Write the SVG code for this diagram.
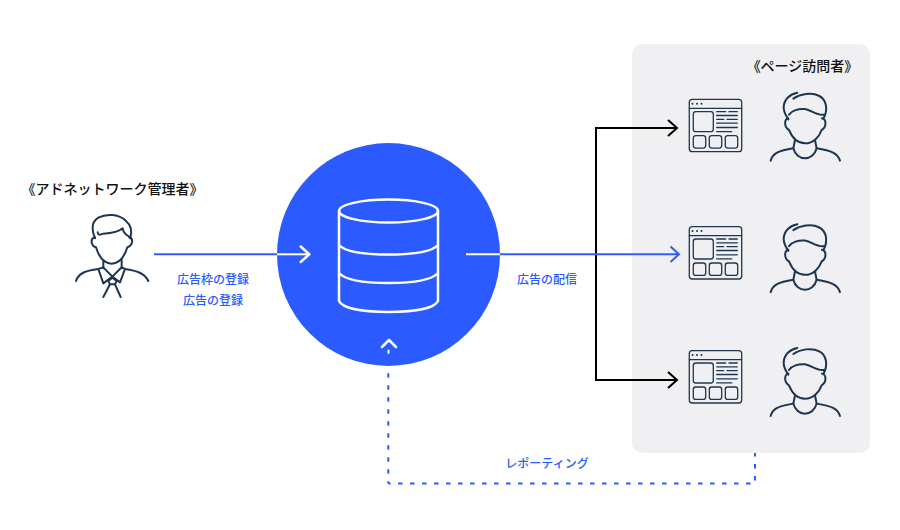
<svg xmlns="http://www.w3.org/2000/svg" width="900" height="530" viewBox="0 0 900 530">
<style>
text{font-family:"Noto Sans CJK JP","Noto Sans",sans-serif}
.t{font-size:14px;fill:#111;text-anchor:middle;font-weight:500}
.l{font-size:12px;fill:#2b5bff;text-anchor:middle;font-weight:500}
.ic{fill:none;stroke:#1d3650;stroke-linecap:round;stroke-linejoin:round}
.blue{fill:none;stroke:#2f5dff;stroke-width:2}
.wh{fill:none;stroke:#fff;stroke-width:2}
.head{fill:none;stroke:#fff;stroke-width:2.5;stroke-linecap:round;stroke-linejoin:round}
.blk{fill:none;stroke:#000;stroke-width:2}
.db{fill:none;stroke:#fff;stroke-width:2.5;stroke-linecap:round;stroke-linejoin:round}
.dash{fill:none;stroke:#2b5bff;stroke-width:2;stroke-dasharray:4.500 7.500;stroke-dashoffset:2.250}
</style>
<defs>
<g id="browser" class="ic" stroke-width="1.3">
<rect x="689.3" y="99.3" width="52.4" height="52.4" rx="3"/>
<path d="M689.3 108.3H741.7"/>
<path d="M692.500 103.800h.01M697 103.800h.01M701.500 103.800h.01" stroke-width="2"/>
<rect x="693.3" y="111.700" width="20" height="20" rx="2.500"/>
<rect x="693.3" y="135.700" width="12.400" height="12.400" rx="2.500"/>
<rect x="709.3" y="135.700" width="12.400" height="12.400" rx="2.500"/>
<rect x="725.3" y="135.700" width="12.400" height="12.400" rx="2.500"/>
<path d="M716.700 111.700h9M729 111.700h8.300M716.700 115.500h20.600M716.700 119.300h7M727 119.300h10.300M716.700 123.200h20.600M716.700 127.500h20.600M716.700 131.600h15"/>
</g>
<g id="person" class="ic" stroke-width="6" transform="translate(680 80) scale(.3333)">
<path d="M352 38C330 42 312 58 311 82C311 95 318 108 325 118"/>
<path d="M340 56C360 42 395 36 418 48C440 60 445 90 430 116"/>
<path d="M327 104C335 92 355 85 375 87C395 90 410 108 432 104"/>
<path d="M325 115C312 118 312 142 327 150C335 170 350 190 375 190C400 190 418 170 425 150C440 142 440 118 426 115"/>
<path d="M345 180L340 205C345 225 360 235 375 235C390 235 405 225 410 205L405 180"/>
<path d="M272 242C278 220 295 212 340 205M410 205C455 212 473 220 480 242"/>
</g>
</defs>
<g id="visitors-panel"><rect x="632" y="44" width="238" height="409" rx="10" fill="#f0f0f3"/></g>
<g id="database">
<circle cx="388.500" cy="254.500" r="111.500" fill="#2b5bff"/>
<ellipse class="db" cx="388.500" cy="211" rx="49.500" ry="11.500"/>
<path class="db" d="M339 211V301C343 309 365 312 388.500 312C412 312 434 309 438 301V211"/>
<path class="db" d="M339 245C345 252 365 254.500 388.500 254.500C412 254.500 432 252 438 245"/>
<path class="db" d="M339 273C345 280 365 283 388.500 283C412 283 432 280 438 273"/>
</g>
<g id="connectors">
<path class="blue" d="M154 254.300H277"/>
<path class="wh" d="M277 254.300H309"/>
<path class="head" d="M300.700 246.500L309.300 254.300L300.700 262"/>
<path class="blk" d="M676 128H596V380H676M668 120L677 128L668 136M668 372L677 380L668 388"/>
<path class="wh" d="M466 254.300H500"/>
<path class="blue" d="M500 254.300H679M670.500 246.500L679 254.300L670.500 262"/>
<path class="dash" d="M388.300 483.500H755V453"/>
<path class="dash" d="M388.300 483.500V366"/>
<path d="M382 347L389 340L396 347" class="head"/>
<path d="M388.500 350.500V353" stroke="#fff" stroke-width="2" stroke-linecap="round"/>
</g>
<g id="admin">
<g class="ic" stroke-width="6" transform="translate(60 205) scale(.3333)">
<path d="M105 100C95 75 95 50 115 38C140 25 175 28 195 45C215 62 218 80 210 100"/>
<path d="M113 82C115 92 120 90 130 86C150 85 175 82 188 70C190 82 200 92 212 97"/>
<path d="M105 97C90 100 92 122 108 127C115 150 130 175 155 176C180 175 195 150 202 127C220 120 220 100 208 97"/>
<path d="M130 165V190M185 165V190"/>
<path d="M48 228C55 205 75 197 115 192M195 192C230 197 255 205 265 228"/>
<path d="M115 192L130 187L157 215L130 235ZM195 192L185 187L157 215L180 232Z"/>
<path d="M145 228L157 218L170 228L165 238H150Z"/>
<path d="M150 238L130 276M165 238L182 276"/>
</g>
<text class="t" x="112.500" y="194">《アドネットワーク管理者》</text>
</g>
<g id="visitor-1"><use href="#browser"/><use href="#person"/></g>
<g id="visitor-2"><use href="#browser" y="127.300"/><use href="#person" y="131.500"/></g>
<g id="visitor-3"><use href="#browser" y="251.300"/><use href="#person" y="255.300"/></g>
<text class="t" x="802.500" y="71">《ページ訪問者》</text>
<text class="l" x="213" y="284">広告枠の登録</text>
<text class="l" x="213" y="305">広告の登録</text>
<text class="l" x="547" y="284">広告の配信</text>
<text class="l" x="547" y="468">レポーティング</text>
</svg>
